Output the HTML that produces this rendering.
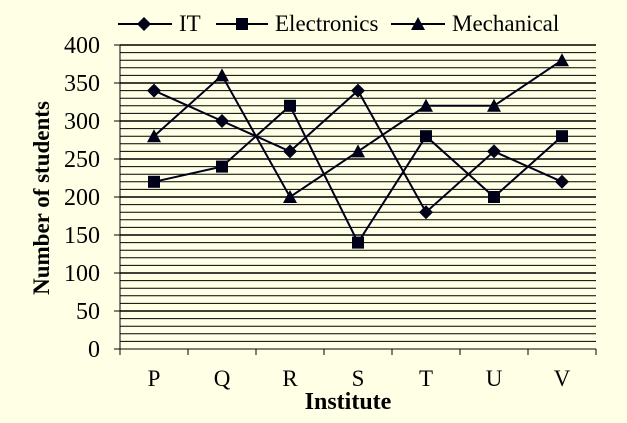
<!DOCTYPE html>
<html><head><style>
html,body{margin:0;padding:0;background:#FFFFE6;}
svg{display:block;}
text{font-family:"Liberation Serif","DejaVu Serif",serif;}
</style></head><body>
<svg id="s" width="627" height="423" xmlns="http://www.w3.org/2000/svg"></svg>
<script>
var s=document.getElementById('s'),h='';
var L=120,R=596,B=349,k=0.76;
function y(v){return B-v*k;}
for(var v=10;v<=400;v+=10){var yy=y(v).toFixed(1);h+='<line x1="'+L+'" x2="'+R+'" y1="'+yy+'" y2="'+yy+'" stroke="#000" stroke-width="'+(v%50==0?1.6:1)+'"/>';}
h+='<line x1="'+L+'" x2="'+L+'" y1="45" y2="'+B+'" stroke="#000"/>';
h+='<line x1="'+(L-6)+'" x2="'+R+'" y1="'+B+'" y2="'+B+'" stroke="#000"/>';
for(var v=0;v<=400;v+=50){var yy=y(v);h+='<line x1="'+(L-6)+'" x2="'+L+'" y1="'+yy+'" y2="'+yy+'" stroke="#000"/>';
h+='<text x="'+(L-20)+'" y="'+(yy+8)+'" font-size="24" text-anchor="end">'+v+'</text>';}
var cats='PQRSTUV';
for(var i=0;i<=7;i++){var xx=L+68*i;h+='<line x1="'+xx+'" x2="'+xx+'" y1="'+B+'" y2="'+(B+6)+'" stroke="#000"/>';}
function X(i){return L+34+68*i;}
for(var i=0;i<7;i++)h+='<text x="'+X(i)+'" y="386" font-size="23" text-anchor="middle">'+cats[i]+'</text>';
h+='<text x="348" y="409" font-size="24" font-weight="bold" text-anchor="middle">Institute</text>';
h+='<text transform="translate(49,198) rotate(-90)" font-size="23" font-weight="bold" text-anchor="middle">Number of students</text>';
var D=[[340,300,260,340,180,260,220],[220,240,320,140,280,200,280],[280,360,200,260,320,320,380]];
function mk(t,x,yy){if(t==0)return '<polygon points="'+x+','+(yy-7)+' '+(x+7)+','+yy+' '+x+','+(yy+7)+' '+(x-7)+','+yy+'" fill="#000018"/>';
if(t==1)return '<rect x="'+(x-6)+'" y="'+(yy-6)+'" width="12" height="12" fill="#000018"/>';
return '<polygon points="'+x+','+(yy-7)+' '+(x+7)+','+(yy+6)+' '+(x-7)+','+(yy+6)+'" fill="#000018"/>';}
for(var t=0;t<3;t++){var p=[];for(var i=0;i<7;i++)p.push(X(i)+','+y(D[t][i]).toFixed(1));
h+='<polyline points="'+p.join(' ')+'" fill="none" stroke="#000018" stroke-width="2"/>';
for(var i=0;i<7;i++)h+=mk(t,X(i),y(D[t][i]));}
var lg=[[118,172,144,'IT',179],[216,268,242,'Electronics',275],[391,445,418,'Mechanical',452]];
for(var j=0;j<3;j++){var g=lg[j];h+='<line x1="'+g[0]+'" x2="'+g[1]+'" y1="24" y2="24" stroke="#000" stroke-width="2"/>'+mk(j,g[2],24)+'<text x="'+g[4]+'" y="31" font-size="23">'+g[3]+'</text>';}
s.innerHTML=h;
</script>
</body></html>
